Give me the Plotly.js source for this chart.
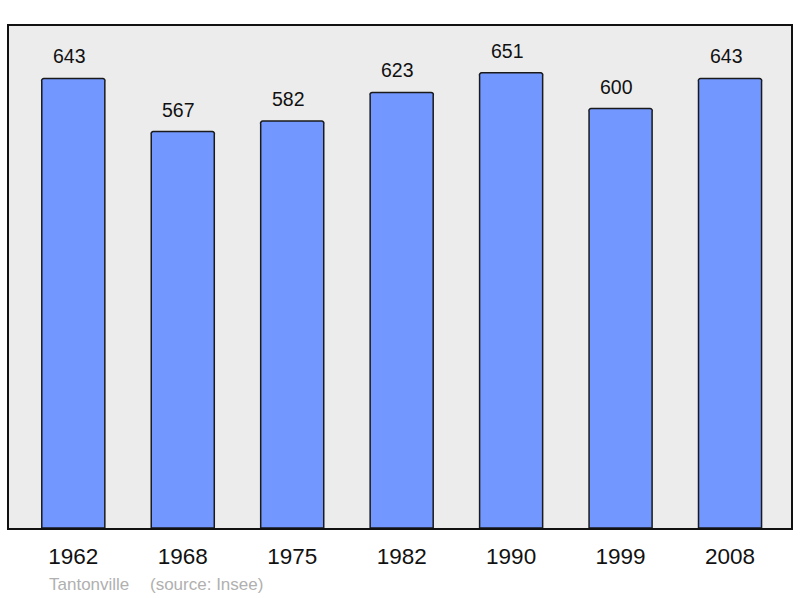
<!DOCTYPE html>
<html>
<head>
<meta charset="utf-8">
<script src="https://cdn.plot.ly/plotly-3.0.1.min.js"></script>
<style>html,body{margin:0;padding:0;background:#fff;}#chart{width:800px;height:598px;}</style>
</head>
<body>
<div id="chart"></div>
<script>
const years = ["1962", "1968", "1975", "1982", "1990", "1999", "2008"];
const population = [643, 567, 582, 623, 651, 600, 643];
const townName = "Tantonville";
const sourceText = "(source: Insee)";

const FONT = "Liberation Sans, Arial, sans-serif";

const trace = {
  type: "bar",
  x: years,
  y: population,
  width: 0.576,
  marker: {
    color: "#7297ff",
    line: {color: "#1a1a1a", width: 1.5},
    cornerradius: 3
  },
  hoverinfo: "x+y"
};

const valueLabels = years.map((yr, i) => ({
  x: i, y: population[i], xref: "x", yref: "y",
  text: String(population[i]),
  showarrow: false, yanchor: "bottom", yshift: 9, xshift: -4,
  font: {family: FONT, size: 19.5, color: "#111"}
}));

const layout = {
  width: 800, height: 598,
  margin: {l: 9, r: 9, t: 26, b: 70, pad: 0},
  paper_bgcolor: "#ffffff",
  plot_bgcolor: "#ececec",
  showlegend: false,
  bargap: 0,
  xaxis: {
    type: "category",
    range: [-0.5875, 6.557],
    showline: true, mirror: true, linecolor: "#111", linewidth: 2,
    showgrid: false, zeroline: false, ticks: "",
    ticklabelstandoff: 7,
    tickfont: {family: FONT, size: 22.5, color: "#111"},
    fixedrange: true
  },
  yaxis: {
    range: [0, 718],
    showline: true, mirror: true, linecolor: "#111", linewidth: 2,
    showgrid: false, zeroline: false, showticklabels: false, ticks: "",
    fixedrange: true
  },
  annotations: valueLabels.concat([
    {x: 0.0485, y: -0.1116, xref: "paper", yref: "paper", text: townName,
     showarrow: false, xanchor: "left", yanchor: "middle",
     font: {family: FONT, size: 17, color: "#b0b0b0"}},
    {x: 0.1775, y: -0.1116, xref: "paper", yref: "paper", text: sourceText,
     showarrow: false, xanchor: "left", yanchor: "middle",
     font: {family: FONT, size: 17, color: "#b0b0b0"}}
  ])
};

Plotly.newPlot("chart", [trace], layout, {displayModeBar: false, staticPlot: true});
</script>
</body>
</html>
